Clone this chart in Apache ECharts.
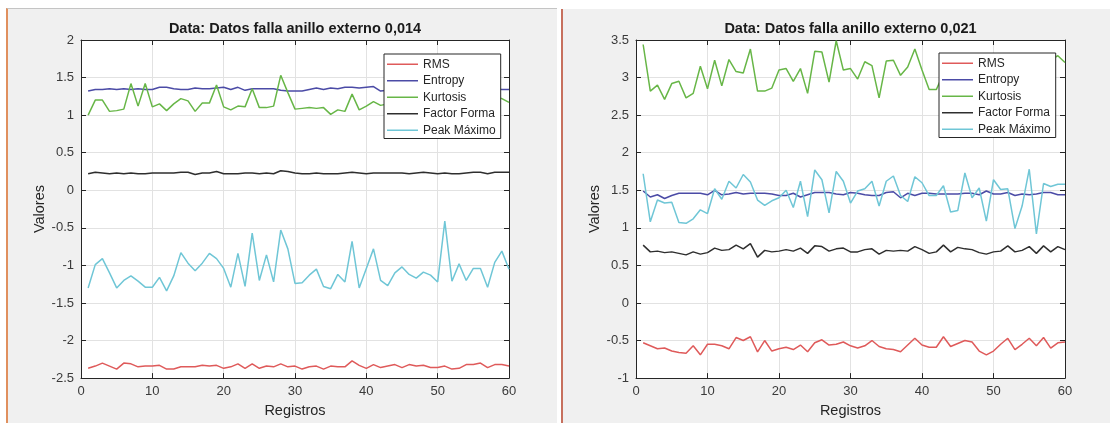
<!DOCTYPE html>
<html>
<head>
<meta charset="utf-8">
<script src="https://cdn.jsdelivr.net/npm/echarts@6/dist/echarts.min.js"></script>
<style>
  html, body { margin: 0; padding: 0; background: #fff; }
  #wrap { position: relative; width: 1110px; height: 423px; overflow: hidden; }
  .fig { position: absolute; background: #f0f0f0; }
  #chart { position: absolute; left: 0; top: 0; width: 1110px; height: 423px; }
</style>
</head>
<body>
<div id="wrap">
  <div class="fig" style="left:6px;top:8px;width:549px;height:415px;border-left:2px solid #e0905e;border-top:1px solid #c4c4c4;"></div>
  <div class="fig" style="left:561px;top:9px;width:549px;height:414px;border-left:2px solid #c7705e;"></div>
  <div id="chart"></div>
</div>
<script>
var registros = [1,2,3,4,5,6,7,8,9,10,11,12,13,14,15,16,17,18,19,20,
  21,22,23,24,25,26,27,28,29,30,31,32,33,34,35,36,37,38,39,40,
  41,42,43,44,45,46,47,48,49,50,51,52,53,54,55,56,57,58,59,60];

var seriesNames = ['RMS', 'Entropy', 'Kurtosis', 'Factor Forma', 'Peak Máximo'];
var seriesColors = ['#df5a5a', '#4b4ba6', '#67b647', '#2e2e2e', '#6fc6d6'];

// Datos falla anillo externo 0,014
var rms014 = [-2.37,-2.34,-2.30,-2.34,-2.38,-2.30,-2.31,-2.35,-2.34,-2.34,-2.33,-2.38,-2.38,-2.35,-2.35,-2.35,-2.33,-2.34,-2.33,-2.37,
  -2.35,-2.31,-2.37,-2.31,-2.37,-2.34,-2.35,-2.31,-2.35,-2.34,-2.38,-2.35,-2.34,-2.38,-2.34,-2.35,-2.35,-2.27,-2.33,-2.37,
  -2.32,-2.36,-2.34,-2.32,-2.36,-2.32,-2.34,-2.33,-2.36,-2.36,-2.34,-2.38,-2.37,-2.32,-2.32,-2.30,-2.36,-2.32,-2.32,-2.34];
var entropy014 = [1.32,1.34,1.34,1.35,1.34,1.35,1.34,1.35,1.34,1.34,1.37,1.37,1.35,1.34,1.34,1.36,1.35,1.35,1.36,1.37,
  1.34,1.37,1.33,1.35,1.35,1.35,1.35,1.33,1.32,1.32,1.32,1.34,1.36,1.34,1.36,1.35,1.37,1.37,1.36,1.37,
  1.38,1.32,1.33,1.35,1.36,1.35,1.37,1.36,1.35,1.36,1.37,1.35,1.36,1.35,1.37,1.36,1.35,1.35,1.34,1.34];
var kurtosis014 = [1.00,1.20,1.20,1.05,1.06,1.08,1.42,1.12,1.42,1.11,1.15,1.06,1.15,1.22,1.19,1.05,1.16,1.16,1.40,1.11,
  1.07,1.12,1.11,1.35,1.10,1.10,1.12,1.53,1.30,1.08,1.09,1.10,1.09,1.10,1.01,1.07,1.05,1.28,1.07,1.12,
  1.18,1.13,1.15,1.12,1.18,1.10,1.14,1.20,1.12,1.16,1.10,1.18,1.14,1.12,1.20,1.16,1.22,1.22,1.22,1.17];
var forma014 = [0.22,0.24,0.23,0.22,0.23,0.22,0.23,0.22,0.22,0.23,0.23,0.23,0.23,0.24,0.24,0.21,0.23,0.23,0.25,0.22,
  0.22,0.22,0.23,0.23,0.22,0.23,0.22,0.26,0.25,0.23,0.22,0.22,0.23,0.22,0.22,0.22,0.23,0.24,0.23,0.22,
  0.23,0.23,0.23,0.23,0.23,0.22,0.23,0.24,0.23,0.22,0.23,0.22,0.22,0.23,0.24,0.24,0.22,0.24,0.24,0.24];
var peak014 = [-1.30,-0.99,-0.91,-1.10,-1.30,-1.20,-1.14,-1.21,-1.29,-1.29,-1.16,-1.34,-1.14,-0.83,-0.97,-1.07,-0.97,-0.84,-0.91,-1.04,
  -1.29,-0.84,-1.28,-0.57,-1.20,-0.86,-1.22,-0.53,-0.78,-1.24,-1.23,-1.13,-1.05,-1.28,-1.31,-1.12,-1.22,-0.68,-1.30,-1.04,
  -0.78,-1.20,-1.27,-1.10,-1.02,-1.12,-1.17,-1.09,-1.13,-1.22,-0.41,-1.21,-0.98,-1.20,-1.04,-1.04,-1.29,-0.96,-0.81,-1.05];

// Datos falla anillo externo 0,021
var rms021 = [-0.53,-0.57,-0.61,-0.60,-0.64,-0.66,-0.67,-0.57,-0.69,-0.55,-0.55,-0.57,-0.61,-0.46,-0.50,-0.45,-0.65,-0.50,-0.64,-0.61,
  -0.59,-0.62,-0.56,-0.65,-0.53,-0.49,-0.56,-0.55,-0.52,-0.57,-0.60,-0.57,-0.50,-0.58,-0.61,-0.62,-0.65,-0.56,-0.47,-0.56,
  -0.59,-0.59,-0.45,-0.58,-0.54,-0.50,-0.52,-0.64,-0.69,-0.64,-0.55,-0.47,-0.62,-0.55,-0.47,-0.57,-0.46,-0.60,-0.53,-0.52];
var entropy021 = [1.49,1.41,1.44,1.39,1.43,1.46,1.46,1.46,1.46,1.44,1.50,1.44,1.45,1.47,1.45,1.46,1.46,1.46,1.45,1.43,
  1.43,1.46,1.41,1.44,1.47,1.47,1.47,1.45,1.44,1.47,1.46,1.44,1.43,1.43,1.47,1.48,1.40,1.46,1.43,1.46,
  1.46,1.45,1.45,1.45,1.45,1.46,1.46,1.44,1.49,1.45,1.45,1.47,1.43,1.45,1.44,1.45,1.47,1.47,1.44,1.44];
var kurtosis021 = [3.44,2.82,2.90,2.71,2.92,2.95,2.73,2.79,3.15,2.85,3.23,2.89,3.24,3.08,3.06,3.38,2.82,2.82,2.86,3.10,
  3.12,2.95,3.12,2.79,3.35,3.34,2.94,3.49,3.10,3.12,2.98,3.21,3.16,2.73,3.22,3.23,3.03,3.14,3.38,3.10,
  2.84,2.84,3.05,2.98,3.20,3.10,2.95,3.25,3.15,3.00,3.18,3.08,2.93,3.22,3.12,3.05,3.20,3.24,3.29,3.20];
var forma021 = [0.77,0.68,0.69,0.67,0.68,0.66,0.64,0.68,0.65,0.67,0.73,0.70,0.71,0.77,0.72,0.79,0.61,0.70,0.68,0.69,
  0.71,0.69,0.73,0.66,0.76,0.75,0.69,0.72,0.73,0.68,0.68,0.71,0.72,0.65,0.70,0.69,0.70,0.69,0.75,0.71,
  0.66,0.68,0.77,0.68,0.74,0.72,0.71,0.67,0.65,0.68,0.69,0.76,0.68,0.70,0.75,0.66,0.76,0.68,0.75,0.71];
var peak021 = [1.72,1.08,1.37,1.33,1.34,1.07,1.06,1.12,1.24,1.19,1.52,1.38,1.62,1.53,1.71,1.61,1.37,1.30,1.36,1.40,
  1.50,1.27,1.62,1.15,1.77,1.64,1.20,1.75,1.62,1.33,1.49,1.52,1.62,1.29,1.62,1.69,1.43,1.35,1.68,1.60,
  1.43,1.43,1.56,1.21,1.23,1.73,1.40,1.53,1.09,1.64,1.51,1.52,0.99,1.29,1.78,0.92,1.59,1.55,1.58,1.58];

var panels = [
  { title: 'Data: Datos falla anillo externo 0,014', left: 81, width: 428, yMin: -2.5, yMax: 2,
    values: [rms014, entropy014, kurtosis014, forma014, peak014], legendLeft: 384, legendTop: 54 },
  { title: 'Data: Datos falla anillo externo 0,021', left: 636, width: 429, yMin: -1, yMax: 3.5,
    values: [rms021, entropy021, kurtosis021, forma021, peak021], legendLeft: 939, legendTop: 53 }
];

var axisColor = '#262626';
var chart = echarts.init(document.getElementById('chart'));

var option = {
  animation: false,
  textStyle: { fontFamily: '"Liberation Sans", Arial, sans-serif' },
  title: [], grid: [], xAxis: [], yAxis: [], legend: [], series: []
};

panels.forEach(function (p, k) {
  option.title.push({
    text: p.title, left: p.left + p.width / 2, top: 21, padding: 0, textAlign: 'center',
    textStyle: { fontSize: 14.5, fontWeight: 'bold', color: '#1a1a1a' }
  });
  option.grid.push({
    left: p.left, top: 40, width: p.width, height: 340,
    show: true, backgroundColor: '#fff', borderWidth: 0
  });
  var line = { show: true, onZero: false, lineStyle: { color: axisColor, width: 1 } };
  var tick = { show: true, inside: true, length: 5, lineStyle: { color: axisColor } };
  // bottom / left axes carry labels and grid, top / right only close the box
  option.xAxis.push({
    type: 'value', gridIndex: k, min: 0, max: 60, interval: 10, position: 'bottom',
    name: 'Registros', nameLocation: 'middle', nameGap: 24,
    nameTextStyle: { fontSize: 14.5, color: axisColor },
    axisLine: line, axisTick: tick,
    axisLabel: { fontSize: 13, color: '#3a3a3a', margin: 7 },
    splitLine: { show: true, lineStyle: { color: '#e2e2e2' } }
  }, {
    type: 'value', gridIndex: k, min: 0, max: 60, interval: 10, position: 'top',
    axisLine: line, axisTick: tick, axisLabel: { show: false }, splitLine: { show: false }
  });
  option.yAxis.push({
    type: 'value', gridIndex: k, min: p.yMin, max: p.yMax, interval: 0.5, position: 'left',
    name: 'Valores', nameLocation: 'middle', nameGap: 33, nameRotate: 90,
    nameTextStyle: { fontSize: 14.5, color: axisColor },
    axisLine: line, axisTick: tick,
    axisLabel: { fontSize: 13, color: '#3a3a3a', margin: 7 },
    splitLine: { show: true, lineStyle: { color: '#e2e2e2' } }
  }, {
    type: 'value', gridIndex: k, min: p.yMin, max: p.yMax, interval: 0.5, position: 'right',
    axisLine: line, axisTick: tick, axisLabel: { show: false }, splitLine: { show: false }
  });
  option.legend.push({
    orient: 'vertical', left: p.legendLeft, top: p.legendTop,
    icon: 'rect', itemWidth: 31, itemHeight: 1.5, itemGap: 0, itemTextGap: 3,
    padding: [2, 5, 0, 3], backgroundColor: '#fff', borderColor: axisColor, borderWidth: 1,
    selectedMode: false, data: seriesNames,
    textStyle: { fontSize: 12, lineHeight: 16.5, color: axisColor }
  });
  p.values.forEach(function (vals, s) {
    option.series.push({
      name: seriesNames[s], type: 'line', xAxisIndex: k * 2, yAxisIndex: k * 2,
      symbol: 'none', color: seriesColors[s],
      lineStyle: { width: 1.5, color: seriesColors[s] },
      data: registros.map(function (x, i) { return [x, vals[i]]; })
    });
  });
});

chart.setOption(option);
window.addEventListener('resize', function () { chart.resize(); });
</script>
</body>
</html>
